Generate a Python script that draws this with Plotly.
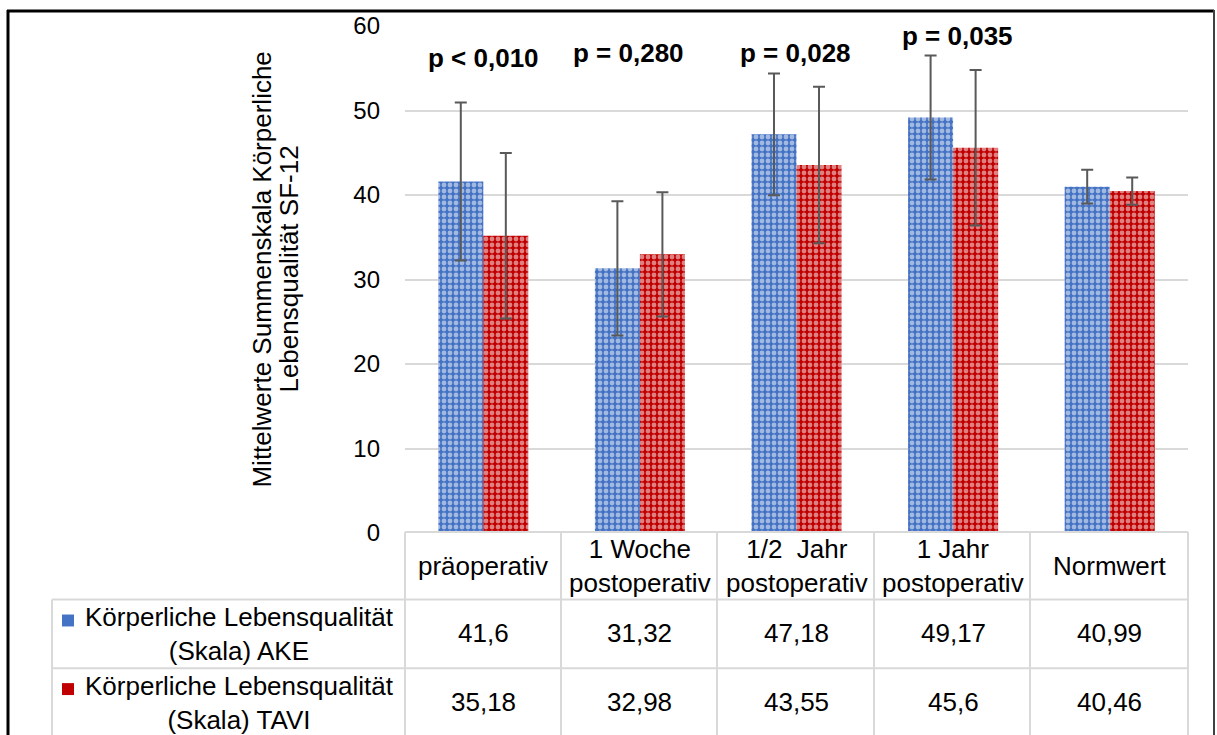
import plotly.graph_objects as go

# --- data -------------------------------------------------------------
categories = ["präoperativ", "1 Woche postoperativ", "1/2  Jahr postoperativ",
              "1 Jahr postoperativ", "Normwert"]
category_labels = ["präoperativ", "1 Woche<br>postoperativ", "1/2\u00a0 Jahr<br>postoperativ",
                   "1 Jahr<br>postoperativ", "Normwert"]
ake_mean = [41.6, 31.32, 47.18, 49.17, 40.99]
ake_sd = [9.35, 7.95, 7.2, 7.35, 2.0]
tavi_mean = [35.18, 32.98, 43.55, 45.6, 40.46]
tavi_sd = [9.8, 7.35, 9.27, 9.2, 1.6]
p_values = ["p < 0,010", "p = 0,280", "p = 0,028", "p = 0,035"]
series_names = ["Körperliche Lebensqualität<br>(Skala) AKE",
                "Körperliche Lebensqualität<br>(Skala) TAVI"]
y_title = ["Mittelwerte Summenskala Körperliche", "Lebensqualität SF-12"]

# --- layout constants -------------------------------------------------
W, H = 1217, 735
L, R, T, B = 405, 1188, 23, 533          # plot area in pixels
BLUE, RED = "#4472C4", "#C00000"
GRID = "#d9d9d9"
FONT = "Liberation Sans, Arial, sans-serif"
FS = 26

p_label_pos = [(483, 55), (628, 50), (795, 50), (957, 33)]   # pixel centres


def px_x(p):
    return (p - L) / (R - L)


def px_y(p):
    return (B - p) / (B - T)


def de(v):
    return f"{v}".replace(".", ",")


fig = go.Figure()
for name, mean, sd, col in [(series_names[0], ake_mean, ake_sd, BLUE),
                            (series_names[1], tavi_mean, tavi_sd, RED)]:
    fig.add_trace(go.Bar(
        x=categories, y=mean, name=name,
        marker=dict(color=col, line=dict(width=0),
                    pattern=dict(shape=".", fgcolor="white", bgcolor=col,
                                 size=6, solidity=0.5)),
        error_y=dict(type="data", array=sd, visible=True,
                     color="#595959", thickness=2, width=6),
        showlegend=False,
    ))

shapes = []
ann = []

# outer frame
shapes += [
    dict(type="line", xref="paper", yref="paper", x0=px_x(7), x1=px_x(1214),
         y0=px_y(8), y1=px_y(8), line=dict(color="black", width=3)),
    dict(type="line", xref="paper", yref="paper", x0=px_x(8), x1=px_x(8),
         y0=px_y(7), y1=px_y(740), line=dict(color="black", width=3)),
    dict(type="line", xref="paper", yref="paper", x0=px_x(1214), x1=px_x(1214),
         y0=px_y(7), y1=px_y(740), line=dict(color="#404040", width=2)),
]

# data table grid
col_edges = [405, 561, 717, 874, 1030, 1188]
row_top, row1, row2, row_bot = 532, 600, 669, 740
tline = dict(color=GRID, width=2)
shapes.append(dict(type="line", xref="paper", yref="paper", x0=px_x(405), x1=px_x(1188),
                   y0=px_y(row_top), y1=px_y(row_top), line=tline))
for yy in (row1, row2):
    shapes.append(dict(type="line", xref="paper", yref="paper", x0=px_x(52), x1=px_x(1188),
                       y0=px_y(yy), y1=px_y(yy), line=tline))
for xx in col_edges:
    shapes.append(dict(type="line", xref="paper", yref="paper", x0=px_x(xx), x1=px_x(xx),
                       y0=px_y(row_top), y1=px_y(row_bot), line=tline))
shapes.append(dict(type="line", xref="paper", yref="paper", x0=px_x(52), x1=px_x(52),
                   y0=px_y(row1), y1=px_y(row_bot), line=tline))

# legend keys inside the table
for (ky, col) in [(621, BLUE), (690, RED)]:
    shapes.append(dict(type="rect", xref="paper", yref="paper",
                       x0=px_x(62), x1=px_x(74), y0=px_y(ky - 6), y1=px_y(ky + 6),
                       fillcolor=col, line=dict(width=0)))

txt = dict(family=FONT, size=FS, color="black")
centre = dict(showarrow=False, xanchor="center", yanchor="middle")

# header row of the table
for cat, lab in zip(categories, category_labels):
    ann.append(dict(x=cat, xref="x", y=px_y(566), yref="paper", text=lab,
                    font=txt, align="center", **centre))

# value rows
for vals, yc in [(ake_mean, 634), (tavi_mean, 703)]:
    for cat, v in zip(categories, vals):
        ann.append(dict(x=cat, xref="x", y=px_y(yc), yref="paper", text=de(v),
                        font=txt, **centre))

# row headers
for name, yc in [(series_names[0], 635), (series_names[1], 704)]:
    ann.append(dict(x=px_x(239), xref="paper", y=px_y(yc), yref="paper", text=name,
                    font=txt, align="center", **centre))

# significance labels
for ptxt, (xx, yy) in zip(p_values, p_label_pos):
    ann.append(dict(x=px_x(xx), xref="paper", y=px_y(yy), yref="paper",
                    text=f"<b>{ptxt}</b>", font=txt, **centre))

# y-axis title (two rotated lines)
for line, xx in zip(y_title, (262, 289)):
    ann.append(dict(x=px_x(xx), xref="paper", y=px_y(268), yref="paper", text=line,
                    textangle=-90, font=txt, **centre))

fig.update_layout(
    width=W, height=H,
    margin=dict(l=L, r=W - R, t=T, b=H - B),
    paper_bgcolor="white", plot_bgcolor="white",
    barmode="group", bargap=0.425, bargroupgap=0,
    font=dict(family=FONT, size=FS, color="black"),
    xaxis=dict(type="category", showticklabels=False, showgrid=False,
               zeroline=False, showline=False, range=[-0.5, 4.5]),
    yaxis=dict(range=[0, 60], dtick=10, showgrid=True, gridcolor=GRID, gridwidth=2,
               zeroline=False, showline=False, ticks="", ticklabelstandoff=24,
               tickfont=dict(family=FONT, size=24, color="black")),
    shapes=shapes, annotations=ann,
)

fig.write_html("out.html")
